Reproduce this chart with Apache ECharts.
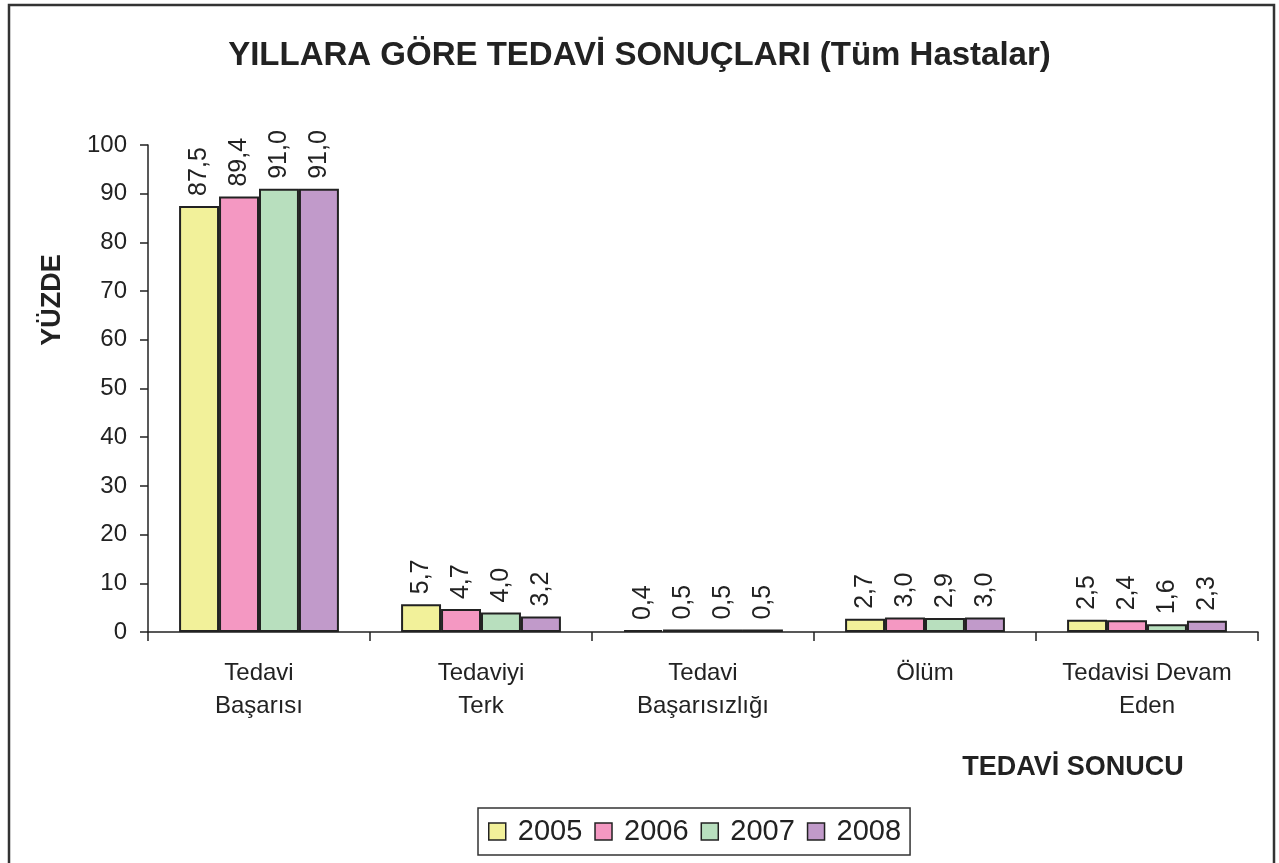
<!DOCTYPE html>
<html><head><meta charset="utf-8">
<script src="https://cdn.jsdelivr.net/npm/echarts@6/dist/echarts.min.js"></script>
<style>html,body{margin:0;padding:0;background:#fff}#c{width:1279px;height:863px}</style>
</head><body><div id="c"></div>
<script>
var categories = ['Tedavi\nBaşarısı', 'Tedaviyi\nTerk', 'Tedavi\nBaşarısızlığı', 'Ölüm', 'Tedavisi Devam\nEden'];
var years = ['2005', '2006', '2007', '2008'];
var v2005 = [87.5, 5.7, 0.4, 2.7, 2.5];
var v2006 = [89.4, 4.7, 0.5, 3.0, 2.4];
var v2007 = [91.0, 4.0, 0.5, 2.9, 1.6];
var v2008 = [91.0, 3.2, 0.5, 3.0, 2.3];
var yTicks = [0, 10, 20, 30, 40, 50, 60, 70, 80, 90, 100];
var colors = ['#F2F19A', '#F498C2', '#B8DFBE', '#C19ACA'];
var values = [v2005, v2006, v2007, v2008];
var FONT = 'Liberation Sans, Arial, sans-serif';

var chart = echarts.init(document.getElementById('c'));
var series = years.map(function (y, i) {
  return {
    name: y, type: 'bar', data: values[i],
    barGap: '0%', barCategoryGap: '28%',
    itemStyle: { color: colors[i], borderColor: '#222', borderWidth: 2 },
    label: {
      show: true, position: 'top', rotate: 90, align: 'left', verticalAlign: 'middle',
      distance: 10, fontFamily: FONT, fontSize: 25, color: '#222',
      formatter: function (p) { return p.value.toFixed(1).replace('.', ','); }
    }
  };
});
chart.setOption({
  animation: false,
  backgroundColor: '#fff',
  title: { text: 'YILLARA GÖRE TEDAVİ SONUÇLARI (Tüm Hastalar)', left: 'center', top: 34,
    textStyle: { fontFamily: FONT, fontSize: 33, fontWeight: 'bold', color: '#222' } },
  legend: {
    data: years, left: 478, top: 808, orient: 'horizontal',
    itemWidth: 17, itemHeight: 17, itemGap: 12, padding: [9, 9, 9, 10],
    borderColor: '#333', borderWidth: 1.5,
    icon: 'rect',
    itemStyle: { borderColor: '#222', borderWidth: 1.5 },
    textStyle: { fontFamily: FONT, fontSize: 29, color: '#222', padding: [0, 0, 0, 7] }
  },
  grid: { left: 148, top: 145, right: 21, bottom: 231 },
  xAxis: {
    type: 'category', data: categories,
    axisLine: { lineStyle: { color: '#222', width: 1.5 } },
    axisTick: { show: true, length: 9, lineStyle: { color: '#222', width: 1.5 } },
    axisLabel: { interval: 0, fontFamily: FONT, fontSize: 24, color: '#222', margin: 25, lineHeight: 33 }
  },
  yAxis: {
    type: 'value', min: 0, max: 100, interval: 10,
    axisLine: { show: true, lineStyle: { color: '#222', width: 1.5 } },
    axisTick: { show: true, length: 8, lineStyle: { color: '#222', width: 1.5 } },
    splitLine: { show: false },
    axisLabel: { fontFamily: FONT, fontSize: 24, color: '#222', margin: 21,
      formatter: function (v) { return yTicks.indexOf(v) >= 0 ? String(v) : ''; } }
  },
  graphic: [
    { type: 'rect', shape: { x: 9, y: 5, width: 1265, height: 900 }, style: { fill: 'none', stroke: '#333', lineWidth: 2.5 }, silent: true },
    { type: 'text', x: 53, y: 300, rotation: Math.PI / 2, style: { text: 'YÜZDE', fontFamily: FONT, fontSize: 27, fontWeight: 'bold', fill: '#222', align: 'center', verticalAlign: 'middle' } },
    { type: 'text', x: 1073, y: 768, style: { text: 'TEDAVİ SONUCU', fontFamily: FONT, fontSize: 27, fontWeight: 'bold', fill: '#222', align: 'center', verticalAlign: 'middle' } }
  ],
  series: series
});
</script></body></html>
